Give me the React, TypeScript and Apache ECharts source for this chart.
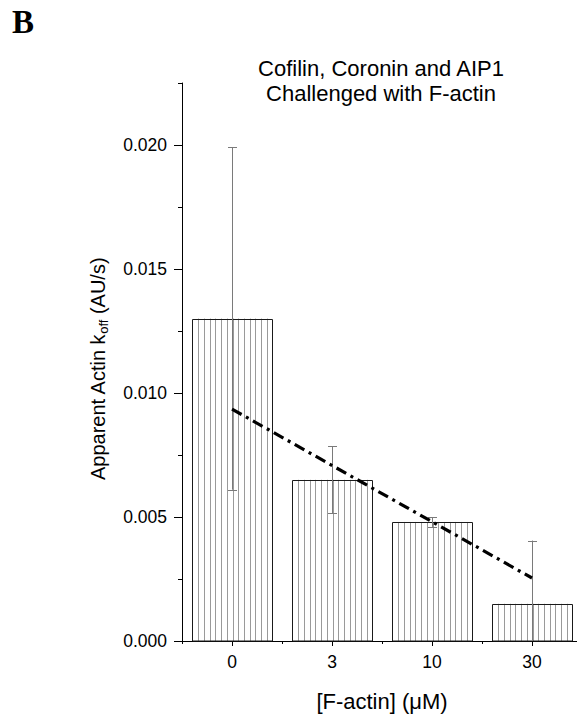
import React, { useEffect, useRef } from 'react';
import * as echarts from 'echarts';

const categories = ['0', '3', '10', '30'];
const barValues = [0.013, 0.0065, 0.0048, 0.0015];
const errorValues = [0.0069, 0.00135, 0.0002, 0.00255];
const trendStart = 0.00935;
const trendEnd = 0.00254;
const yMajorTicks = [0, 0.005, 0.01, 0.015, 0.02];
const yMinorTicks = [0.0025, 0.0075, 0.0125, 0.0175, 0.0225];
const titleLines = ['Cofilin, Coronin and AIP1', 'Challenged with F-actin'];
const panelLabel = 'B';

const SANS = '"Liberation Sans", Arial, sans-serif';

export default function App() {
  const ref = useRef<HTMLDivElement>(null);
  useEffect(() => {
    if (!ref.current) return;
    const chart = echarts.init(ref.current, undefined, { renderer: 'svg' });
    const option: any = {
      animation: false,
      backgroundColor: '#fff',
      grid: { left: 182, right: -5, top: 83, bottom: 76, outerBoundsMode: 'none' },
      graphic: [
        {
          type: 'text',
          x: 12,
          y: 21.5,
          style: {
            text: panelLabel,
            fontFamily: '"Liberation Serif", "Times New Roman", serif',
            fontWeight: 'bold',
            fontSize: 33,
            fill: '#000',
            align: 'left',
            verticalAlign: 'middle',
          },
        },
        {
          type: 'text',
          x: 381,
          y: 80.5,
          style: {
            text: titleLines.join('\n'),
            fontFamily: SANS,
            fontSize: 22,
            lineHeight: 25,
            fill: '#000',
            align: 'center',
            verticalAlign: 'middle',
          },
        },
      ],
      xAxis: [
        {
          type: 'category',
          data: categories,
          position: 'bottom',
          boundaryGap: true,
          axisLine: { show: true, lineStyle: { color: '#000', width: 1 } },
          axisTick: { show: true, alignWithLabel: true, length: 5, lineStyle: { color: '#000', width: 1 } },
          axisLabel: { color: '#000', fontSize: 17.5, fontFamily: SANS, margin: 12 },
          splitLine: { show: false },
          name: '[F-actin] (\u03bcM)',
          nameLocation: 'middle',
          nameGap: 49,
          nameTextStyle: { color: '#000', fontSize: 22, fontFamily: SANS },
        },
        {
          type: 'category',
          data: categories,
          position: 'bottom',
          boundaryGap: true,
          axisLine: { show: false },
          axisTick: { show: true, length: 3, lineStyle: { color: '#000', width: 1 } },
          axisLabel: { show: false },
          splitLine: { show: false },
        },
      ],
      yAxis: [
        {
          type: 'value',
          position: 'left',
          min: 0,
          max: 0.0225,
          axisLine: { show: true, lineStyle: { color: '#000', width: 1 } },
          axisTick: { show: true, customValues: yMajorTicks, length: 8, lineStyle: { color: '#000', width: 1 } },
          axisLabel: {
            customValues: yMajorTicks,
            color: '#000',
            fontSize: 17.5,
            fontFamily: SANS,
            margin: 15,
            formatter: (v: number) => v.toFixed(3),
          },
          splitLine: { show: false },
          name: 'Apparent Actin k{sub|off} (AU/s)',
          nameLocation: 'middle',
          nameGap: 72,
          nameRotate: 90,
          nameTextStyle: {
            color: '#000',
            fontSize: 20,
            fontFamily: SANS,
            lineHeight: 24,
            padding: [0, 14, 0, 0],
            rich: {
              sub: { fontSize: 13, fontFamily: SANS, color: '#000', lineHeight: 13, verticalAlign: 'bottom' },
            },
          },
        },
        {
          type: 'value',
          position: 'left',
          min: 0,
          max: 0.0225,
          axisLine: { show: false },
          axisTick: { show: true, customValues: yMinorTicks, length: 4, lineStyle: { color: '#000', width: 1 } },
          axisLabel: { show: false },
          splitLine: { show: false },
        },
      ],
      series: [
        {
          type: 'custom',
          name: 'bars',
          xAxisIndex: 0,
          yAxisIndex: 0,
          z: 2,
          data: barValues.map((v, i) => [i, v]),
          renderItem: (params: any, api: any) => {
            const idx = api.value(0);
            const v = api.value(1);
            const top = api.coord([idx, v]);
            const base = api.coord([idx, 0]);
            const w = api.size([1, 0])[0] * 0.8;
            const x0 = Math.round(top[0] - w / 2) + 0.5;
            const children: any[] = [];
            const n = 14;
            for (let k = 1; k < n; k++) {
              const x = Math.round(x0 + (k * w) / n) + 0.5;
              children.push({
                type: 'line',
                shape: { x1: x, y1: top[1], x2: x, y2: base[1] },
                style: { stroke: '#9a9a9a', lineWidth: 1 },
              });
            }
            children.push({
              type: 'rect',
              shape: { x: x0, y: Math.round(top[1]) + 0.5, width: Math.round(w), height: base[1] - Math.round(top[1]) - 0.5 },
              style: { fill: 'none', stroke: '#1a1a1a', lineWidth: 1 },
            });
            return { type: 'group', children };
          },
        },
        {
          type: 'custom',
          name: 'errors',
          xAxisIndex: 0,
          yAxisIndex: 0,
          z: 3,
          data: barValues.map((v, i) => [i, v - errorValues[i], v + errorValues[i]]),
          renderItem: (params: any, api: any) => {
            const idx = api.value(0);
            const lo = api.value(1);
            const hi = api.value(2);
            const pHi = api.coord([idx, hi]);
            const pLo = api.coord([idx, Math.max(lo, 0)]);
            const x = Math.round(pHi[0]) + 0.5;
            const cap = 4.5;
            const st = { stroke: '#7a7a7a', lineWidth: 1 };
            const children: any[] = [
              { type: 'line', shape: { x1: x, y1: pHi[1], x2: x, y2: pLo[1] }, style: st },
              { type: 'line', shape: { x1: x - cap, y1: Math.round(pHi[1]) + 0.5, x2: x + cap, y2: Math.round(pHi[1]) + 0.5 }, style: st },
            ];
            if (lo >= 0) {
              children.push({ type: 'line', shape: { x1: x - cap, y1: Math.round(pLo[1]) + 0.5, x2: x + cap, y2: Math.round(pLo[1]) + 0.5 }, style: st });
            }
            return { type: 'group', children };
          },
        },
        {
          type: 'line',
          name: 'trend',
          xAxisIndex: 0,
          yAxisIndex: 0,
          z: 4,
          symbol: 'none',
          data: [
            [0, trendStart],
            [categories.length - 1, trendEnd],
          ],
          lineStyle: { color: '#000', width: 3.2, type: [11, 5, 3, 5], cap: 'butt' },
        },
      ],
    };
    chart.setOption(option);
    return () => chart.dispose();
  }, []);
  return (
    <div
      ref={ref}
      style={{ position: 'fixed', left: 0, top: 0, width: 577, height: 717, background: '#fff' }}
    />
  );
}
